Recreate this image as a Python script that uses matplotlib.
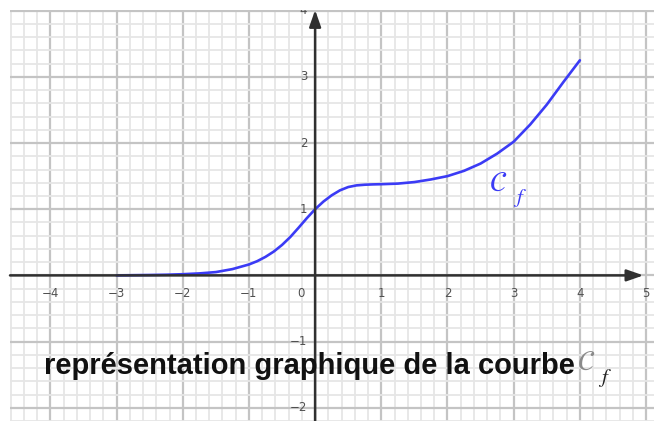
import numpy as np
import matplotlib
matplotlib.use("Agg")
import matplotlib.pyplot as plt
from matplotlib import font_manager as fm

# ---- data ----
x_vals = [-3.0, -2.75, -2.5, -2.25, -2.0, -1.75, -1.5, -1.25, -1.0, -0.875, -0.75, -0.625,
          -0.5, -0.375, -0.25, -0.125, 0.0, 0.125, 0.25, 0.375, 0.5, 0.625, 0.75, 0.875,
          1.0, 1.25, 1.5, 1.75, 2.0, 2.25, 2.5, 2.75, 3.0, 3.25, 3.5, 3.75, 4.0]
y_vals = [0.0, 0.003, 0.006, 0.01, 0.018, 0.03, 0.05, 0.095, 0.165, 0.215, 0.28, 0.36,
          0.46, 0.58, 0.72, 0.865, 1.0, 1.115, 1.21, 1.285, 1.335, 1.36, 1.37, 1.375,
          1.378, 1.387, 1.41, 1.45, 1.50, 1.58, 1.69, 1.84, 2.02, 2.28, 2.58, 2.92, 3.25]
x_ticks = [-4, -3, -2, -1, 1, 2, 3, 4, 5]
y_ticks = [-2, -1, 1, 2, 3, 4]
caption = "représentation graphique de la courbe"

# regular-width Liberation Sans Bold file
bold_path = None
for p in fm.findSystemFonts():
    if p.split("/")[-1] == "LiberationSans-Bold.ttf":
        bold_path = p
        break
cap_font = (fm.FontProperties(fname=bold_path) if bold_path
            else fm.FontProperties(family="DejaVu Sans", weight="bold"))

W, H = 654, 421
fig = plt.figure(figsize=(W / 100, H / 100), dpi=100)
ax = fig.add_axes([10 / W, 0, (W - 10) / W, (H - 10) / H])
ax.set_xlim(-4.61, 5.12)
ax.set_ylim(-2.20, 4.01)

# grid
ax.set_xticks(np.arange(-4, 6, 1))
ax.set_yticks(np.arange(-2, 5, 1))
ax.set_xticks(np.arange(-4.6, 5.2, 0.2), minor=True)
ax.set_yticks(np.arange(-2.2, 4.1, 0.2), minor=True)
ax.grid(which="minor", color="#e6e6e6", linewidth=1.3)
ax.grid(which="major", color="#c4c4c4", linewidth=1.6)
ax.tick_params(which="both", length=0, labelbottom=False, labelleft=False)
for s in ax.spines.values():
    s.set_visible(False)
ax.set_axisbelow(True)

# axes with arrows
ax.annotate("", xy=(4.96, 0), xytext=(-4.61, 0),
            arrowprops=dict(arrowstyle="-|>,head_length=1.0,head_width=0.35",
                            color="#303030", lw=1.8, shrinkA=0, shrinkB=0))
ax.annotate("", xy=(0, 4.01), xytext=(0, -2.20),
            arrowprops=dict(arrowstyle="-|>,head_length=1.0,head_width=0.35",
                            color="#303030", lw=1.8, shrinkA=0, shrinkB=0))

# tick labels
tc = "#505050"
for t in x_ticks:
    ax.text(t, -0.27, f"{t}".replace("-", "\u2212"), ha="center", va="center",
            fontsize=8.5, color=tc, clip_on=True)
ax.text(-0.22, -0.27, "0", ha="center", va="center", fontsize=8.5, color=tc)
for t in y_ticks:
    ax.text(-0.12, t, f"{t}".replace("-", "\u2212"), ha="right", va="center",
            fontsize=8.5, color=tc, clip_on=True)

# curve
blue = "#3b3bf5"
ax.plot(x_vals, y_vals, color=blue, lw=1.9, solid_capstyle="round",
        solid_joinstyle="round")
ax.text(2.77, 1.40, r"$\mathcal{C}$", color=blue, fontsize=20,
        math_fontfamily="stix", ha="center", va="center")
ax.text(3.10, 1.17, r"$f$", color=blue, fontsize=15,
        math_fontfamily="stix", ha="center", va="center")

# caption
ax.text(-4.09, -1.37, caption, fontproperties=cap_font, fontsize=21,
        color="#111111", ha="left", va="center")
ax.text(4.10, -1.30, r"$\mathcal{C}$", color="#8a8a8a", fontsize=20,
        math_fontfamily="stix", ha="center", va="center")
ax.text(4.38, -1.55, r"$f$", color="#222222", fontsize=15,
        math_fontfamily="stix", ha="center", va="center")

fig.savefig("out.png", dpi=100)
